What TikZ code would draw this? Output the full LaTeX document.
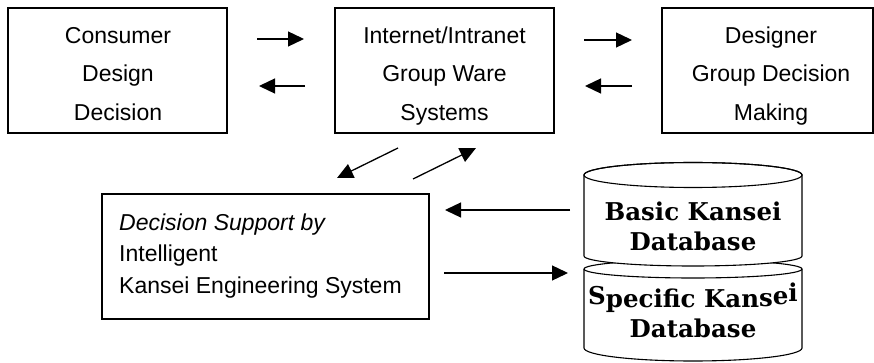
\documentclass[tikz,border=0pt]{standalone}
\usepackage{fontspec}
\setsansfont{Liberation Sans}
\newfontfamily\dbfont{DejaVu Serif}
\usetikzlibrary{arrows.meta}
\begin{document}
\begin{tikzpicture}[x=1pt,y=1pt,
  box/.style={draw, line width=1.3pt, inner sep=0pt, minimum height=125pt},
  lbl/.style={font=\sffamily\fontsize{23}{23}\selectfont, anchor=base, inner sep=0pt},
  lbll/.style={font=\sffamily\fontsize{23}{23}\selectfont, anchor=base west, inner sep=0pt},
  dbt/.style={font=\dbfont\bfseries\fontsize{24.5}{24.5}\selectfont, anchor=base, inner sep=0pt},
  arr/.style={-{Triangle[length=16pt,width=15pt]}, line width=1.3pt},
  cyl/.style={draw, line width=1.1pt, fill=white},
]
\useasboundingbox (0,0) rectangle (874,-363);

% top row boxes
\node[box, minimum width=219pt] (cons) at (117.5,-70.5) {};
\node[box, minimum width=219pt] (gw)   at (444.5,-70.5) {};
\node[box, minimum width=211pt] (des)  at (767.5,-70.5) {};
\node[box, minimum width=327pt] (dss)  at (265.5,-256.5) {};

\node[lbl] (c1) at (118,-43.3) {Consumer};
\node[lbl] (c2) at (118,-82) {Design};
\node[lbl] (c3) at (118,-120.7) {Decision};

\node[lbl] (g1) at (444.5,-43.3) {Internet/Intranet};
\node[lbl] (g2) at (444.5,-82) {Group Ware};
\node[lbl] (g3) at (444.5,-120.7) {Systems};

\node[lbl] (d1) at (771,-43.3) {Designer};
\node[lbl] (d2) at (771,-82) {Group Decision};
\node[lbl] (d3) at (771,-120.7) {Making};

\node[lbll] (s1) at (119,-230) {\itshape Decision Support by};
\node[lbll] (s2) at (119,-261.7) {Intelligent};
\node[lbll] (s3) at (119,-293.3) {Kansei Engineering System};

% database cylinders
\path[cyl] (584,-269) -- (584,-348) arc[start angle=180,end angle=360,x radius=109pt,y radius=13pt]
  -- (802,-269) arc[start angle=0,end angle=180,x radius=109pt,y radius=9pt] -- cycle;
\draw[line width=1.1pt] (584,-269) arc[start angle=180,end angle=360,x radius=109pt,y radius=9pt];
\path[cyl] (584,-175) -- (584,-256) arc[start angle=180,end angle=360,x radius=109pt,y radius=10pt]
  -- (802,-175) arc[start angle=0,end angle=180,x radius=109pt,y radius=12.5pt] -- cycle;
\draw[line width=1.1pt] (693,-175) ellipse[x radius=109pt,y radius=12.5pt];

\node[dbt] (b1) at (693,-220) {Basic Kansei};
\node[dbt] (b2) at (693,-250) {Database};
\node[dbt] (p1) at (693,-307) {\raisebox{3pt}{S}pecific Kan\raisebox{1pt}{s}\raisebox{3pt}{e}\raisebox{6pt}{i}};
\node[dbt] (p2) at (693,-337) {Database};

% arrow end points
\coordinate (a1s) at (257,-39);   \coordinate (a1e) at (304,-39);
\coordinate (a2s) at (305,-86);   \coordinate (a2e) at (259,-86);
\coordinate (a3s) at (584,-40);   \coordinate (a3e) at (632,-40);
\coordinate (a4s) at (632,-86);   \coordinate (a4e) at (585,-86);
\coordinate (a5s) at (398,-148);  \coordinate (a5e) at (337,-178);
\coordinate (a6s) at (413,-179);  \coordinate (a6e) at (476,-148);
\coordinate (a7s) at (570,-210);  \coordinate (a7e) at (445,-210);
\coordinate (a8s) at (444,-273);  \coordinate (a8e) at (568,-273);

\draw[arr] (a1s) -- (a1e);
\draw[arr] (a2s) -- (a2e);
\draw[arr] (a3s) -- (a3e);
\draw[arr] (a4s) -- (a4e);
\draw[arr] (a5s) -- (a5e);
\draw[arr] (a6s) -- (a6e);
\draw[arr] (a7s) -- (a7e);
\draw[arr] (a8s) -- (a8e);
\end{tikzpicture}
\end{document}
